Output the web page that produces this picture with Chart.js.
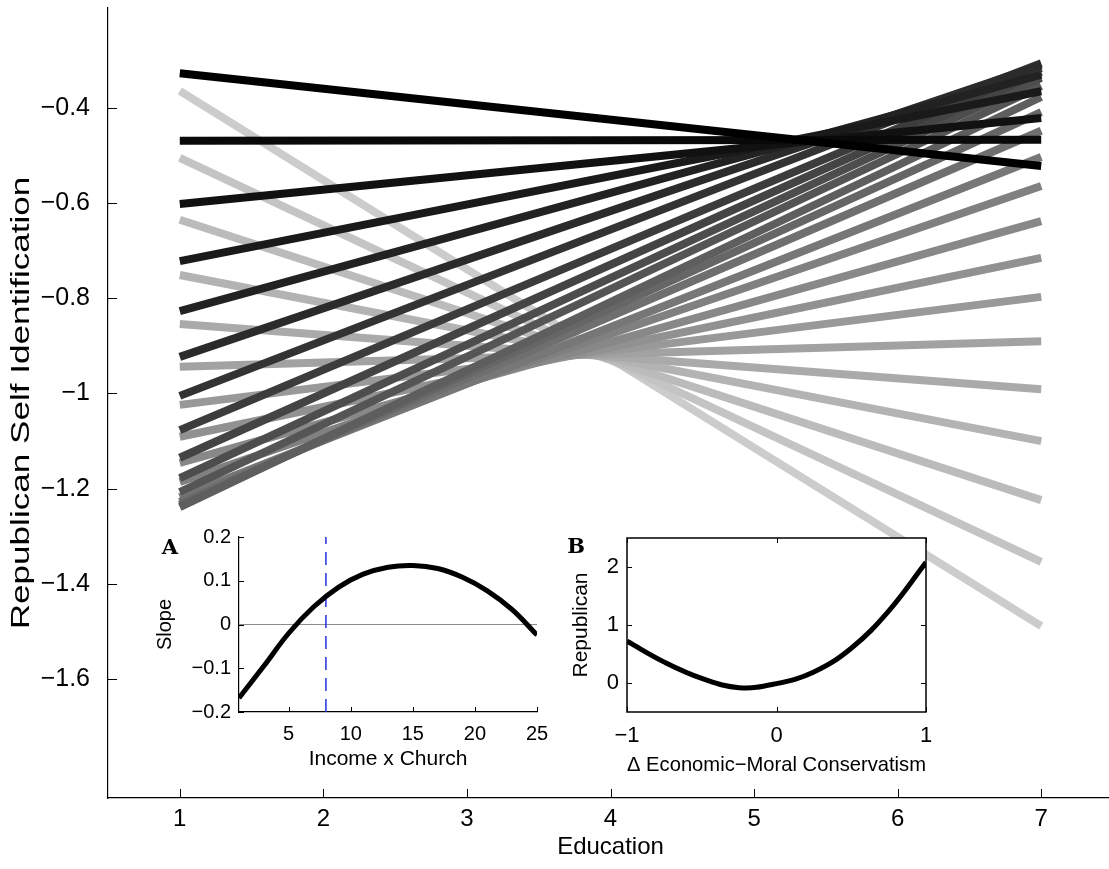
<!DOCTYPE html>
<html>
<head>
<meta charset="utf-8">
<script src="https://cdn.jsdelivr.net/npm/chart.js@4.4.1/dist/chart.umd.min.js"></script>
<style>
  html, body { margin: 0; padding: 0; background: #fff; }
  #wrap { position: relative; width: 1109px; height: 869px; overflow: hidden; }
  canvas { position: absolute; }
  #main { left: 0; top: 0; }
  #insetA { left: 140px; top: 525px; }
  #insetB { left: 540px; top: 525px; }
  .panel { position: absolute; font: bold 21px "DejaVu Serif", serif; line-height: 1; transform: translate(-50%, -50%); }
</style>
</head>
<body>
<div id="wrap">
  <canvas id="main" width="1113" height="869"></canvas>
  <canvas id="insetA" width="410" height="270"></canvas>
  <canvas id="insetB" width="400" height="270"></canvas>
  <span class="panel" style="left:170px;top:546px">A</span>
  <span class="panel" style="left:576px;top:545px">B</span>
</div>
<script>
// main panel: predicted identification at education 1 and 7, one line per income x church level
const educationRange = [1, 7];
const incomeChurch = [1, 2, 3, 4, 5, 6, 7, 8, 9, 10, 11, 12, 13, 14, 15, 16, 17, 18, 19, 20, 21, 22, 23, 24, 25];
const republicanAtEdu1 = [-0.364, -0.505, -0.635, -0.751, -0.854, -0.944, -1.024, -1.091, -1.146, -1.186,
  -1.218, -1.228, -1.234, -1.239, -1.207, -1.178, -1.135, -1.077, -1.005, -0.923,
  -0.827, -0.722, -0.602, -0.469, -0.327];
const republicanAtEdu7 = [-1.489, -1.354, -1.224, -1.100, -0.991, -0.890, -0.797, -0.715, -0.638, -0.564,
  -0.503, -0.448, -0.409, -0.377, -0.354, -0.337, -0.324, -0.316, -0.306, -0.310,
  -0.330, -0.365, -0.421, -0.467, -0.522];
const mainXTicks = [1, 2, 3, 4, 5, 6, 7];
const mainYTicks = [-1.6, -1.4, -1.2, -1, -0.8, -0.6, -0.4];
const mainYLabels = ["\u22121.6", "\u22121.4", "\u22121.2", "\u22121", "\u22120.8", "\u22120.6", "\u22120.4"];

// inset A: slope of education vs income x church
const slopeIxC = [1, 3, 5, 7, 9, 11, 13, 15, 17, 19, 21, 23, 25];
const slopeValues = [-0.168, -0.095, -0.02, 0.04, 0.085, 0.115, 0.131, 0.135, 0.128, 0.108, 0.077, 0.034, -0.024];
const slopeXTicks = [5, 10, 15, 20, 25];
const slopeYTicks = [-0.2, -0.1, 0, 0.1, 0.2];
const slopeYLabels = ["\u22120.2", "\u22120.1", "0", "0.1", "0.2"];
const cutoffIxC = 8;

// inset B: republican vs difference in economic and moral conservatism
const consDelta = [-1, -0.75, -0.5, -0.25, 0, 0.25, 0.5, 0.75, 1];
const republicanB = [0.72, 0.36, 0.08, -0.08, -0.01, 0.19, 0.6, 1.24, 2.08];
const consXTicks = [-1, 0, 1];
const consXLabels = ["\u22121", "0", "1"];
const consYTicks = [0, 1, 2];

Chart.defaults.font.family = '"Liberation Sans", Arial, sans-serif';
Chart.defaults.color = '#000';

// matlab style ticks pointing into the plot, optional full box
const inwardTicks = {
  id: 'inwardTicks',
  beforeDatasetsDraw(chart, args, opts) {
    if (!opts.fill) return;
    const a = chart.chartArea;
    chart.ctx.save();
    chart.ctx.fillStyle = '#fff';
    chart.ctx.fillRect(a.left, a.top, a.right - a.left, a.bottom - a.top);
    chart.ctx.restore();
  },
  afterDraw(chart, args, opts) {
    const { ctx, chartArea: a, scales: { x, y } } = chart;
    const len = opts.len || 8;
    ctx.save();
    ctx.strokeStyle = '#000';
    ctx.lineWidth = 1;
    ctx.beginPath();
    x.ticks.forEach(t => {
      const px = Math.round(x.getPixelForValue(t.value)) + 0.5;
      ctx.moveTo(px, a.bottom); ctx.lineTo(px, a.bottom - len);
      if (opts.box) { ctx.moveTo(px, a.top); ctx.lineTo(px, a.top + len); }
    });
    y.ticks.forEach(t => {
      const py = Math.round(y.getPixelForValue(t.value)) + 0.5;
      ctx.moveTo(a.left, py); ctx.lineTo(a.left + len, py);
      if (opts.box) { ctx.moveTo(a.right, py); ctx.lineTo(a.right - len, py); }
    });
    ctx.stroke();
    if (opts.box) {
      ctx.lineWidth = 1.5;
      ctx.strokeRect(a.left, a.top, a.right - a.left, a.bottom - a.top);
    }
    if (opts.yTitle) {
      // the y label in the figure is drawn wide, so stretch it along its length
      ctx.translate(opts.yTitle.x, (a.top + a.bottom) / 2);
      ctx.rotate(-Math.PI / 2);
      ctx.scale(opts.yTitle.stretch, 1);
      ctx.font = opts.yTitle.font;
      ctx.fillStyle = '#000';
      ctx.textAlign = 'center';
      ctx.textBaseline = 'middle';
      ctx.fillText(opts.yTitle.text, 0, 0);
    }
    ctx.restore();
  }
};

// fixed scale sizes, no extra room for edge labels
const fixX = h => s => { s.height = h; s.paddingLeft = 0; s.paddingRight = 0; };
const fixY = w => s => { s.width = w; s.paddingTop = 0; s.paddingBottom = 0; };

const grayFor = i => {
  const g = Math.round(204 * (incomeChurch.length - 1 - i) / (incomeChurch.length - 1));
  return `rgb(${g},${g},${g})`;
};

new Chart(document.getElementById('main'), {
  type: 'line',
  data: {
    datasets: incomeChurch.map((ic, i) => ({
      label: 'IxC ' + ic,
      data: [
        { x: educationRange[0], y: republicanAtEdu1[i] },
        { x: educationRange[1], y: republicanAtEdu7[i] }
      ],
      borderColor: grayFor(i),
      borderWidth: 8,
      borderCapStyle: 'butt',
      pointRadius: 0,
      order: incomeChurch.length - 1 - i
    }))
  },
  options: {
    responsive: false,
    animation: false,
    devicePixelRatio: 1,
    layout: { padding: { top: 8, right: 0, left: 0, bottom: 0 } },
    plugins: {
      legend: { display: false },
      tooltip: { enabled: false },
      inwardTicks: {
        len: 9,
        yTitle: { text: 'Republican Self Identification', x: 22, stretch: 1.35, font: '26px "Liberation Sans", Arial, sans-serif' }
      }
    },
    scales: {
      x: {
        type: 'linear', min: 0.5, max: 7.5,
        afterBuildTicks: s => { s.ticks = mainXTicks.map(v => ({ value: v })); },
        afterFit: fixX(71),
        grid: { display: false, drawTicks: false },
        border: { display: true, color: '#000', width: 1.2 },
        ticks: { font: { size: 24 }, padding: 7, maxRotation: 0 },
        title: { display: true, text: 'Education', font: { size: 24 }, padding: { top: 0, bottom: 7 } }
      },
      y: {
        type: 'linear', min: -1.85, max: -0.19,
        afterBuildTicks: s => { s.ticks = mainYTicks.map(v => ({ value: v })); },
        afterFit: fixY(108),
        grid: { display: false, drawTicks: false },
        border: { display: true, color: '#000', width: 1.2 },
        ticks: { font: { size: 25 }, padding: 18, callback: (v, i) => mainYLabels[i] },
        title: { display: false }
      }
    }
  },
  plugins: [inwardTicks]
});

new Chart(document.getElementById('insetA'), {
  type: 'line',
  data: {
    datasets: [
      {
        data: slopeIxC.map((v, i) => ({ x: v, y: slopeValues[i] })),
        borderColor: '#000', borderWidth: 5, pointRadius: 0, tension: 0.4, order: 0
      },
      {
        data: [{ x: slopeIxC[0], y: 0 }, { x: slopeIxC[slopeIxC.length - 1], y: 0 }],
        borderColor: '#8c8c8c', borderWidth: 1, pointRadius: 0, order: 2
      },
      {
        data: [{ x: cutoffIxC, y: slopeYTicks[0] }, { x: cutoffIxC, y: slopeYTicks[slopeYTicks.length - 1] }],
        borderColor: '#2233dd', borderWidth: 1.5, borderDash: [13, 8], pointRadius: 0, order: 1
      }
    ]
  },
  options: {
    responsive: false,
    animation: false,
    devicePixelRatio: 1,
    layout: { padding: { top: 12, right: 13, left: 0, bottom: 0 } },
    plugins: { legend: { display: false }, tooltip: { enabled: false }, inwardTicks: { len: 5 } },
    scales: {
      x: {
        type: 'linear', min: 1, max: 25,
        afterBuildTicks: s => { s.ticks = slopeXTicks.map(v => ({ value: v })); },
        afterFit: fixX(83),
        grid: { display: false, drawTicks: false },
        border: { display: true, color: '#000', width: 1.2 },
        ticks: { font: { size: 20 }, padding: 10, maxRotation: 0 },
        title: { display: true, text: 'Income x Church', font: { size: 21 }, padding: { top: 0, bottom: 23 } }
      },
      y: {
        type: 'linear', min: -0.2, max: 0.2,
        afterBuildTicks: s => { s.ticks = slopeYTicks.map(v => ({ value: v })); },
        afterFit: fixY(99),
        grid: { display: false, drawTicks: false },
        border: { display: true, color: '#000', width: 1.2 },
        ticks: { font: { size: 20 }, padding: 8, callback: (v, i) => slopeYLabels[i] },
        title: { display: true, text: 'Slope', font: { size: 20 }, padding: { top: 13, bottom: 0 } }
      }
    }
  },
  plugins: [inwardTicks]
});

new Chart(document.getElementById('insetB'), {
  type: 'line',
  data: {
    datasets: [{
      data: consDelta.map((v, i) => ({ x: v, y: republicanB[i] })),
      borderColor: '#000', borderWidth: 5, pointRadius: 0, tension: 0.4
    }]
  },
  options: {
    responsive: false,
    animation: false,
    devicePixelRatio: 1,
    layout: { padding: { top: 13, right: 14, left: 0, bottom: 0 } },
    plugins: { legend: { display: false }, tooltip: { enabled: false }, inwardTicks: { len: 5, box: true, fill: true } },
    scales: {
      x: {
        type: 'linear', min: -1, max: 1,
        afterBuildTicks: s => { s.ticks = consXTicks.map(v => ({ value: v })); },
        afterFit: fixX(83),
        grid: { display: false, drawTicks: false },
        border: { display: false },
        ticks: { font: { size: 22 }, padding: 11, maxRotation: 0, callback: (v, i) => consXLabels[i] },
        title: { display: true, text: '\u0394 Economic\u2212Moral Conservatism', font: { size: 21 }, padding: { top: 0, bottom: 17 } }
      },
      y: {
        type: 'linear', min: -0.5, max: 2.5,
        afterBuildTicks: s => { s.ticks = consYTicks.map(v => ({ value: v })); },
        afterFit: fixY(87),
        grid: { display: false, drawTicks: false },
        border: { display: false },
        ticks: { font: { size: 22 }, padding: 8 },
        title: { display: true, text: 'Republican', font: { size: 21 }, padding: { top: 29, bottom: 0 } }
      }
    }
  },
  plugins: [inwardTicks]
});
</script>
</body>
</html>
